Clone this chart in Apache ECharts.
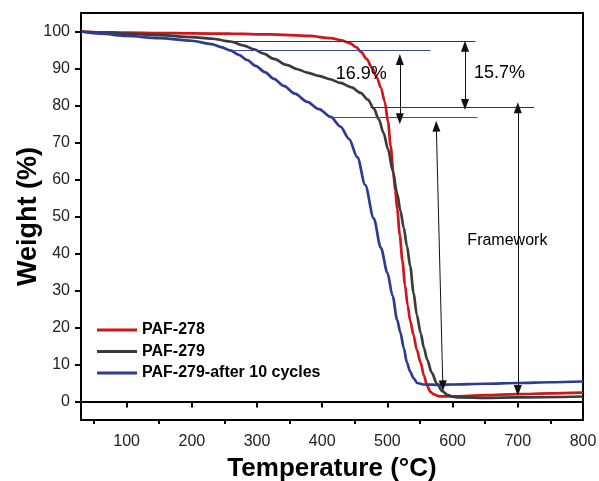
<!DOCTYPE html>
<html><head><meta charset="utf-8">
<script src="https://cdn.jsdelivr.net/npm/echarts@6/dist/echarts.min.js"></script>
<style>html,body{margin:0;padding:0;background:#fff}#c{width:599px;height:481px}</style>
</head><body><div id="c"></div>
<script>
const seriesNames = ['PAF-278', 'PAF-279', 'PAF-279-after 10 cycles'];
const xLabelTicks = [100, 200, 300, 400, 500, 600, 700, 800];
const xMinorTicks = [50, 150, 250, 350, 450, 550, 650, 750];
const yLabelTicks = [0, 10, 20, 30, 40, 50, 60, 70, 80, 90, 100];

const paf278 = [[30,100],[60,99.8],[100,99.7],[150,99.6],[200,99.5],[260,99.4],[320,99.2],[380,98.8],[413,98.2],[430,97.6],[443,96.8],[452,95.8],[460,94.4],[468,92.6],[476,90.3],[484,87.5],[490,84.8],[496,81],[501,75.5],[505,69],[509,62],[512,57],[515,52],[519,45],[523,38],[527,31.5],[531,26],[535,21.8],[540,18],[545,14],[551,10.5],[556,7],[561,4.2],[566,2.6],[571,1.9],[580,1.4],[600,1.4],[650,1.7],[700,2.0],[750,2.2],[800,2.4]];
const paf279 = [[30,100],[60,99.7],[100,99.4],[150,99],[200,98.5],[230,98.1],[259,97.3],[280,96.2],[295,95.2],[310,94.0],[326,92.6],[345,91.0],[362,89.8],[377,88.9],[395,88.0],[412,87.1],[428,86.1],[445,84.9],[459,83.4],[470,81.6],[479,79.2],[487,76.2],[494,72.6],[501,68.2],[508,62.5],[515,56.2],[520,51.5],[525,47],[530,42],[535,36.5],[540,29.5],[545,23.5],[551,18.5],[556,14.5],[561,11.3],[568,7.8],[576,4.8],[584,2.8],[592,1.8],[600,1.3],[610,1.1],[650,1.0],[700,1.1],[800,1.35]];
const paf279After = [[30,100],[60,99.4],[100,98.8],[150,98.2],[200,97.5],[230,96.6],[245,95.8],[259,94.9],[272,93.7],[285,92.3],[298,90.7],[312,89.0],[326,87.2],[341,85.3],[358,83.2],[377,81.0],[395,79.0],[413,76.9],[428,74.3],[441,71.0],[454,66.0],[466,58.5],[479,49.5],[490,41.5],[500,34.8],[508,28.5],[515,22],[520,18.6],[525,14.5],[530,10.5],[535,8],[540,6.3],[546,5],[555,4.6],[580,4.5],[600,4.6],[650,4.8],[700,5.0],[750,5.2],[800,5.4]];

// annotation guide lines: [x1, y1, x2, y2]
const blackGuides = [[250,97.4,635,97.4],[474,79.6,725,79.6]];
const blueGuides = [[262,94.9,566,94.9],[413,76.9,638,76.9]];
const arrows = [[519,92.4,519,76.4],[619,96.0,619,80.3],[575,74.4,585,4.25],[700,79.4,700,3.0]];
const annoTexts = [['16.9%',460,88.4],['15.7%',672,88.8],['Framework',684,43.5]];

const colors = ['#d0161a', '#3b3b3b', '#2f3a93'];
const chart = echarts.init(document.getElementById('c'), null, {renderer: 'canvas'});

function seg(a, color, width, sym) {
  return [{coord:[a[0],a[1]], symbol: sym, lineStyle:{color: color, width: width, type:'solid'}},
          {coord:[a[2],a[3]], symbol: sym}];
}
const markData = [];
blackGuides.forEach(g => markData.push(seg(g, '#333', 1, 'none')));
blueGuides.forEach(g => markData.push(seg(g, '#3a4a9e', 1, 'none')));
arrows.forEach(g => markData.push(seg(g, '#111', 1, 'triangle')));

const curve = (name, data, color) => ({
  name, type: 'line', data, xAxisIndex: 0, yAxisIndex: 0,
  showSymbol: false, smooth: 0.3, smoothMonotone: 'x',
  lineStyle: {color, width: 2.7}, itemStyle: {color},
  emphasis: {disabled: true}, z: 3
});

const font = 'Liberation Sans, Arial';
chart.setOption({
  animation: false,
  backgroundColor: '#fff',
  grid: {left: 81, right: 16, top: 13, bottom: 61, show: true, borderColor: '#000', borderWidth: 2,
         containLabel: false, outerBoundsMode: 'none'},
  legend: {
    data: seriesNames, orient: 'vertical', left: 92, top: 317,
    itemWidth: 40, itemHeight: 16, itemGap: 5.5,
    icon: 'path://M0,0 L40,0 L40,3 L0,3 Z',
    textStyle: {fontFamily: font, fontWeight: 'bold', fontSize: 16, color: '#000'}
  },
  xAxis: [{
    type: 'value', min: 30, max: 800,
    name: 'Temperature (°C)', nameLocation: 'middle', nameGap: 36, nameMoveOverlap: false,
    nameTextStyle: {fontFamily: font, fontWeight: 'bold', fontSize: 26, color: '#000'},
    axisLine: {show: true, lineStyle: {color: '#000', width: 2}},
    axisTick: {show: true, customValues: xLabelTicks, length: 6, lineStyle: {color: '#000', width: 2}},
    axisLabel: {customValues: xLabelTicks, fontFamily: font, fontSize: 16, color: '#222', margin: 14},
    splitLine: {show: false}
  }, {
    type: 'value', min: 30, max: 800, position: 'bottom',
    axisLine: {show: false},
    axisTick: {show: true, customValues: xMinorTicks, length: 4, lineStyle: {color: '#000', width: 2}},
    axisLabel: {show: false}, splitLine: {show: false}
  }],
  yAxis: {
    type: 'value', min: -5, max: 105,
    name: 'Weight (%)', nameLocation: 'middle', nameGap: 39, nameMoveOverlap: false,
    nameTextStyle: {fontFamily: font, fontWeight: 'bold', fontSize: 27, color: '#000'},
    axisLine: {show: true, lineStyle: {color: '#000', width: 2}},
    axisTick: {show: true, customValues: yLabelTicks, length: 6, lineStyle: {color: '#000', width: 2}},
    axisLabel: {customValues: yLabelTicks, fontFamily: font, fontSize: 16, color: '#222', margin: 11},
    splitLine: {show: false}
  },
  series: [
    curve(seriesNames[0], paf278, colors[0]),
    curve(seriesNames[1], paf279, colors[1]),
    curve(seriesNames[2], paf279After, colors[2]),
    {
      name: 'guides', type: 'line', data: [], silent: true, z: 2,
      markLine: {silent: true, animation: false, symbol: 'none', symbolSize: [8, 11], label: {show: false},
        emphasis: {disabled: true}, data: markData}
    },
    {
      name: 'texts', type: 'scatter', silent: true, symbolSize: 1, z: 5,
      itemStyle: {opacity: 1, color: 'rgba(0,0,0,0)'},
      emphasis: {disabled: true},
      data: annoTexts.map(t => ({name: t[0], value: [t[1], t[2]],
        label: {fontSize: t[0] === 'Framework' ? 16 : 18}})),
      label: {show: true, position: 'inside', formatter: p => p.name,
        fontFamily: font, color: '#000', opacity: 1},
      labelLayout: {hideOverlap: false}
    }
  ]
});
</script></body></html>
